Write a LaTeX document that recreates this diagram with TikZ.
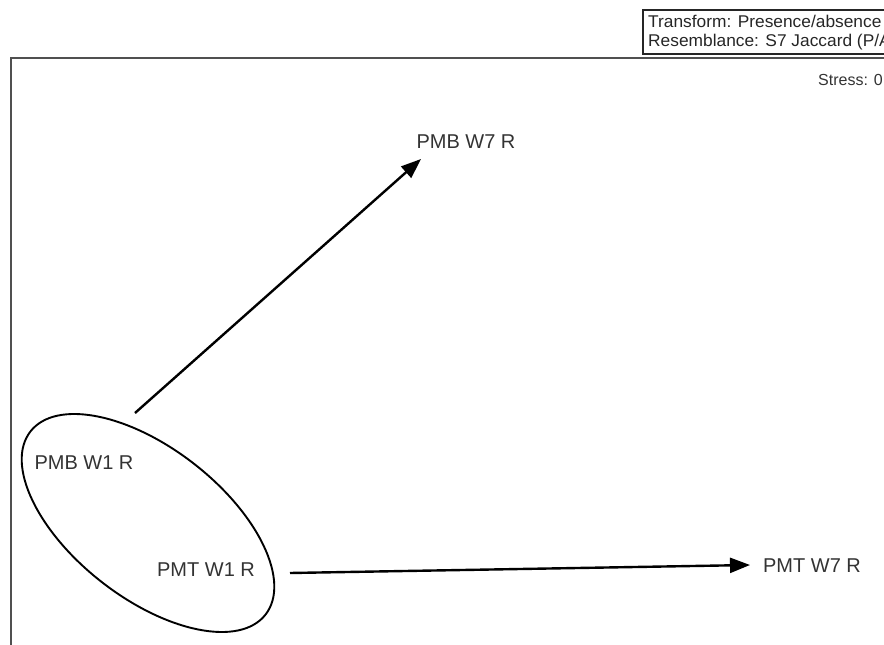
\documentclass[tikz,border=0pt]{standalone}
\usepackage{fontspec}
\setmainfont{Liberation Sans}
\usetikzlibrary{arrows.meta,shapes.geometric}
\definecolor{labgray}{HTML}{333333}
\definecolor{framegray}{HTML}{505050}
\tikzset{
  lab/.style={text=labgray, font=\fontsize{20}{20}\selectfont, inner sep=0pt},
  legtxt/.style={text=black!85, font=\fontsize{17}{17}\selectfont, inner sep=0pt, anchor=west},
  arr/.style={line width=2.4pt, -{Triangle[length=20pt,width=15pt]}},
  frame/.style={line width=1.8pt, draw=framegray},
}
\begin{document}
\begin{tikzpicture}[x=1pt,y=-1pt]
\useasboundingbox (0,0) rectangle (884,645);
\clip (0,0) rectangle (884,645);
% plot frame
\coordinate (fbl) at (11,645);
\coordinate (ftl) at (11,58);
\coordinate (ftr) at (890,58);
\draw[frame] (fbl) -- (ftl) -- (ftr);
% legend box
\node[draw=black!85, line width=1.8pt, minimum width=300pt, minimum height=44pt, anchor=north west, inner sep=0pt] (legend) at (642,9) {};
\node[legtxt] (lt1) at (648,21) {\scalebox{1.02}[1]{Transform: Presence/absence}};
\node[legtxt] (lt2) at (648,42) {\scalebox{1.02}[1]{Resemblance: S7 Jaccard (P/A)}};
\node[legtxt, font=\fontsize{16}{16}\selectfont, text=labgray] (stress) at (818,80) {Stress: 0};
% labels
\node[lab] (b7) at (466,142) {PMB W7 R};
\node[lab] (b1) at (84,463) {PMB W1 R};
\node[lab] (t1) at (206,570) {PMT W1 R};
\node[lab] (t7) at (812,566) {PMT W7 R};
% group ellipse
\node[draw, ellipse, line width=1.9pt, minimum width=298pt, minimum height=150pt, rotate=-37.9, inner sep=0pt] (grp) at (148,523) {};
% arrows
\coordinate (s1) at (135,413);
\coordinate (e1) at (421,159);
\coordinate (s2) at (290,573);
\coordinate (e2) at (750,565);
\draw[arr] (s1) -- (e1);
\draw[arr] (s2) -- (e2);
\end{tikzpicture}
\end{document}
